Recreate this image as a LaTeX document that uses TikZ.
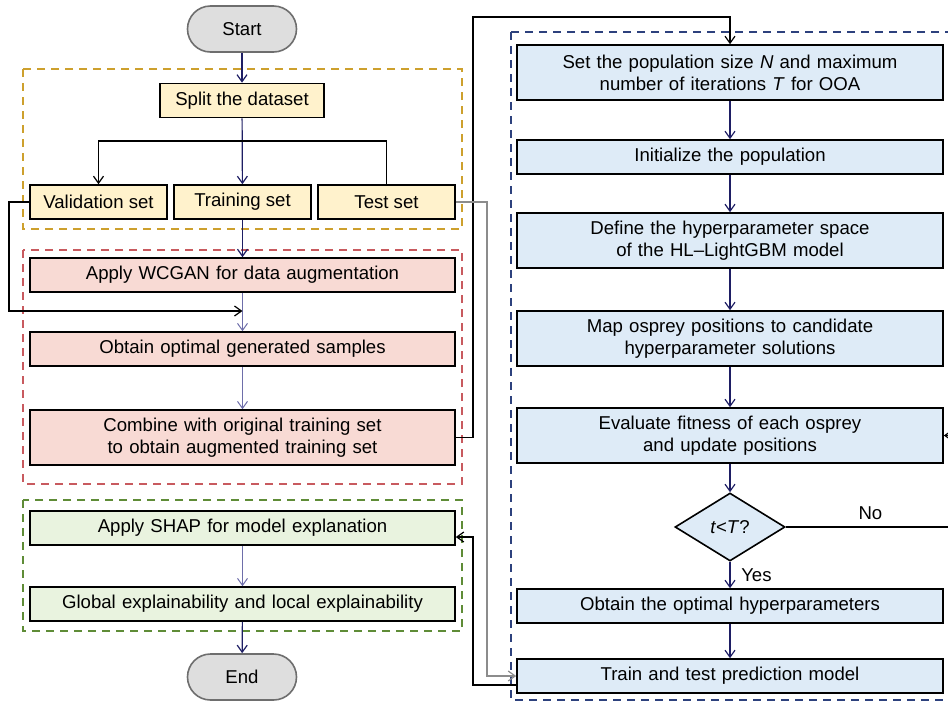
\documentclass[tikz,border=0pt]{standalone}
\usepackage{fontspec}
\setmainfont{Liberation Sans}
\usepackage{tikz}
\usetikzlibrary{shapes,arrows.meta}

\definecolor{navy}{RGB}{30,30,100}
\definecolor{lav}{RGB}{110,110,170}
\definecolor{gris}{RGB}{140,140,140}
\definecolor{termfill}{RGB}{222,222,222}
\definecolor{termdraw}{RGB}{110,110,110}
\definecolor{orfill}{RGB}{255,242,204}
\definecolor{ordash}{RGB}{205,160,45}
\definecolor{redfill}{RGB}{248,218,212}
\definecolor{reddash}{RGB}{200,90,95}
\definecolor{grfill}{RGB}{233,243,223}
\definecolor{grdash}{RGB}{95,140,55}
\definecolor{blfill}{RGB}{222,235,247}
\definecolor{bldash}{RGB}{45,65,125}

\begin{document}
\begin{tikzpicture}[x=0.5pt,y=-0.5pt,font=\fontsize{9.3}{11}\selectfont]
    \tikzset{pbox/.style={draw,rectangle,line width=0.8pt,text centered,inner sep=1pt,minimum height=17pt},
             wide/.style={pbox,minimum width=212.5pt,text width=205pt},
             term/.style={draw=termdraw,fill=termfill,rectangle,rounded corners=11.5pt,line width=0.8pt,minimum width=54.5pt,minimum height=23pt},
             zone/.style={dashed,line width=0.8pt,dash pattern=on 4pt off 3pt}}
    \tikzstyle{fleche}=[-{Straight Barb[length=3.5pt,width=5pt]},line width=0.6pt]
    \useasboundingbox (0,0) rectangle (948,702);

    \draw[zone,ordash] (23,69) rectangle (462,229);
    \draw[zone,reddash] (23,250) rectangle (462,484);
    \draw[zone,grdash] (23,500) rectangle (462,631);
    \draw[zone,bldash] (511,32) rectangle (960,700);

    \node[term] (START) at (242,29) {Start};
    \node[pbox,fill=orfill,minimum width=82pt] (SPLIT) at (242,100.5) {Split the dataset};
    \node[pbox,fill=orfill,minimum width=68.5pt] (VAL) at (98.5,202) {Validation set};
    \node[pbox,fill=orfill,minimum width=68.5pt] (TRAIN) at (242.5,202) {Training set};
    \node[pbox,fill=orfill,minimum width=68.5pt] (TEST) at (386.5,202) {Test set};
    \coordinate (BR) at (242,141);
    \draw[fleche,navy] (START)--(SPLIT);
    \draw[fleche,navy] (SPLIT)--(TRAIN);
    \draw[fleche] (BR)-|(VAL.north);
    \draw[line width=0.6pt] (BR)-|(TEST.north);

    \node[wide,fill=redfill] (WCGAN) at (242.5,275) {Apply WCGAN for data augmentation};
    \node[wide,fill=redfill] (GEN) at (242.5,349) {Obtain optimal generated samples};
    \node[wide,fill=redfill,minimum height=27.5pt] (COMB) at (242.5,437.5) {Combine with original training set\\to obtain augmented training set};
    \coordinate (JOIN) at (242.5,311);
    \draw[fleche,navy] (TRAIN)--(WCGAN);
    \draw[fleche,lav,line width=0.5pt] (WCGAN)--(GEN);
    \draw[fleche,lav,line width=0.5pt] (GEN)--(COMB);
    \draw[fleche] (VAL.west)--(9,202)|-(JOIN);

    \node[wide,fill=grfill] (SHAP) at (242.5,528) {Apply SHAP for model explanation};
    \node[wide,fill=grfill] (GLOB) at (242.5,604) {Global explainability and local explainability};
    \node[term] (END) at (242,677) {End};
    \draw[fleche,lav,line width=0.5pt] (SHAP)--(GLOB);
    \draw[fleche,navy] (GLOB)--(END);

    \node[wide,fill=blfill,minimum width=213pt,minimum height=27.5pt] (SET) at (730,72.5) {Set the population size \textit{N} and maximum\\number of iterations \textit{T} for OOA};
    \node[wide,fill=blfill,minimum width=213pt] (INIT) at (730,157) {Initialize the population};
    \node[wide,fill=blfill,minimum width=213pt,minimum height=27.5pt] (DEF) at (730,240.5) {Define the hyperparameter space\\of the HL–LightGBM model};
    \node[wide,fill=blfill,minimum width=213pt,minimum height=27.5pt] (MAP) at (730,338.5) {Map osprey positions to candidate\\hyperparameter solutions};
    \node[wide,fill=blfill,minimum width=213pt,minimum height=27.5pt] (EVAL) at (730,435.5) {Evaluate fitness of each osprey\\and update positions};
    \node[diamond,draw,fill=blfill,line width=0.8pt,inner sep=0pt,minimum width=55pt,minimum height=34pt] (TEST2) at (730,527) {\textit{t}<\textit{T}?};
    \node[wide,fill=blfill,minimum width=213pt] (OPT) at (730,606) {Obtain the optimal hyperparameters};
    \node[wide,fill=blfill,minimum width=213pt] (TT) at (730,676) {Train and test prediction model};
    \draw[fleche,navy] (SET)--(INIT);
    \draw[fleche,navy] (INIT)--(DEF);
    \draw[fleche,navy] (DEF)--(MAP);
    \draw[fleche,navy] (MAP)--(EVAL);
    \draw[fleche,navy] (EVAL)--(TEST2);
    \draw[fleche,navy] (TEST2)--node[right,black,xshift=2pt]{Yes}(OPT);
    \draw[fleche,navy] (OPT)--(TT);
    \draw[fleche] (TEST2.east)--node[above,pos=0.5]{No}(955,527)|-(EVAL.east);

    \draw[fleche] (COMB.east)--(473,437.5)--(473,17)-|(SET.north);
    \draw[fleche,gris] (TEST.east)--(487,202)|-(TT.west);
    \draw[fleche] ([yshift=-4.5pt]TT.west)-|(473,537)--(SHAP.east|-473,537);
  \end{tikzpicture}
\end{document}
